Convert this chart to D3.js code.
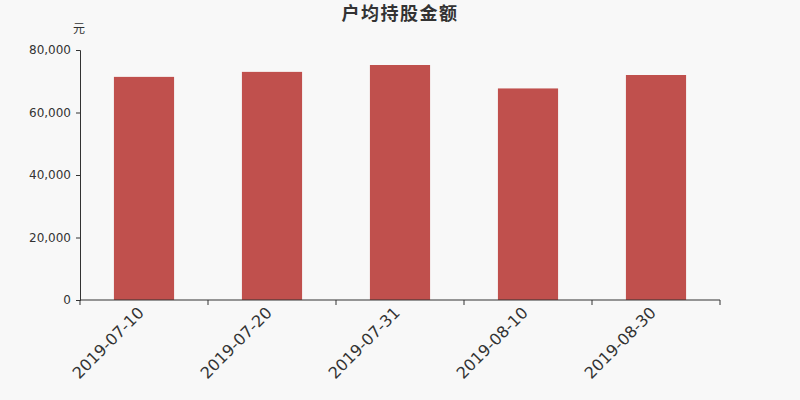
<!DOCTYPE html>
<html>
<head>
<meta charset="utf-8">
<script src="https://cdn.jsdelivr.net/npm/d3@7"></script>
<style>
  body { margin: 0; background: #f8f8f8; }
  svg { display: block; font-family: "DejaVu Sans", "Noto Sans CJK SC", sans-serif; }
</style>
</head>
<body>
<div id="chart"></div>
<script>
const categories = ["2019-07-10", "2019-07-20", "2019-07-31", "2019-08-10", "2019-08-30"];
const values = [71400, 73000, 75200, 67700, 72000];
const yTicks = [0, 20000, 40000, 60000, 80000];

const width = 800;
const height = 400;
const margin = { top: 50, right: 80, bottom: 100, left: 80 };
const fontFamily = '"DejaVu Sans", "Noto Sans CJK SC", sans-serif';

const svg = d3.select("#chart")
  .append("svg")
  .attr("width", width)
  .attr("height", height);

svg.append("rect")
  .attr("width", width)
  .attr("height", height)
  .attr("fill", "#f8f8f8");

const x = d3.scaleBand()
  .domain(categories)
  .range([margin.left, width - margin.right]);

const y = d3.scaleLinear()
  .domain([0, 80000])
  .range([height - margin.bottom, margin.top]);

// bars
const barW = x.bandwidth() * 0.47;
svg.selectAll(".bar")
  .data(values)
  .enter()
  .append("rect")
  .attr("x", (d, i) => x(categories[i]) + (x.bandwidth() - barW) / 2)
  .attr("y", d => y(d))
  .attr("width", barW)
  .attr("height", d => y(0) - y(d))
  .attr("fill", "#c0504d");

// y axis
const yAxis = svg.append("g")
  .attr("transform", `translate(${margin.left},0)`)
  .call(d3.axisLeft(y).tickValues(yTicks).tickSize(4).tickFormat(d3.format(",")))
  .attr("font-family", fontFamily);
yAxis.select(".domain").attr("stroke", "#333");
yAxis.selectAll(".tick line").attr("stroke", "#333");
yAxis.selectAll("text")
  .attr("fill", "#333")
  .style("font-size", "12px")
  .attr("x", -9);

// x axis: ticks on band boundaries
const xAxis = svg.append("g")
  .attr("transform", `translate(0,${y(0)})`);
xAxis.append("line")
  .attr("x1", margin.left)
  .attr("x2", width - margin.right)
  .attr("stroke", "#333");
const bounds = categories.map(c => x(c)).concat([x(categories[categories.length - 1]) + x.bandwidth()]);
xAxis.selectAll(".tk")
  .data(bounds)
  .enter()
  .append("line")
  .attr("x1", d => d)
  .attr("x2", d => d)
  .attr("y1", 0)
  .attr("y2", 5)
  .attr("stroke", "#333");
xAxis.selectAll(".lbl")
  .data(categories)
  .enter()
  .append("text")
  .attr("transform", d => `translate(${x(d) + x.bandwidth() / 2 - 7},${6}) rotate(-45)`)
  .attr("text-anchor", "end")
  .attr("dy", "0.7em")
  .attr("fill", "#333")
  .style("font-size", "16px")
  .text(d => d);

// unit label
svg.append("text")
  .attr("x", 79)
  .attr("y", 33)
  .attr("text-anchor", "middle")
  .attr("fill", "#333")
  .style("font-size", "12px")
  .text("元");

// title
svg.append("text")
  .attr("x", width / 2)
  .attr("y", 20)
  .attr("text-anchor", "middle")
  .attr("fill", "#333")
  .style("font-size", "18px")
  .style("letter-spacing", "1.5px")
  .style("font-weight", "bold")
  .text("户均持股金额");
</script>
</body>
</html>
